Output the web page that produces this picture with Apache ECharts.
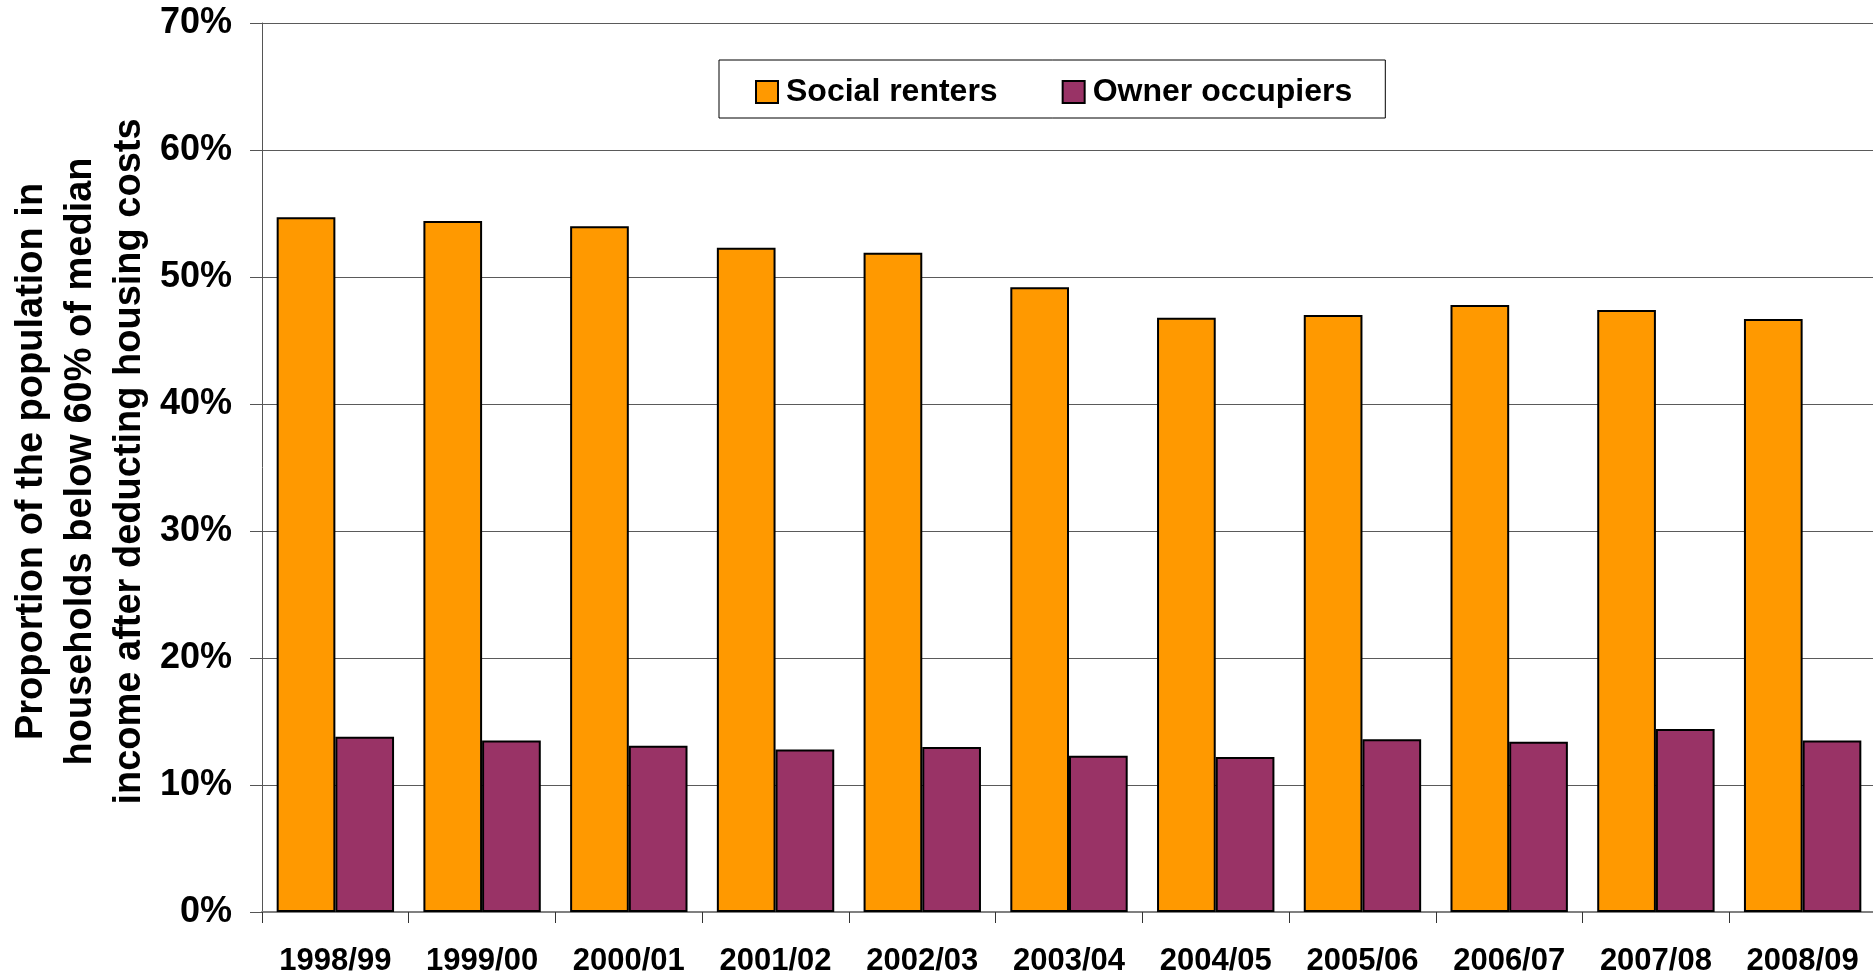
<!DOCTYPE html>
<html>
<head>
<meta charset="utf-8">
<script src="https://cdn.jsdelivr.net/npm/echarts@6/dist/echarts.min.js"></script>
<style>
  html, body { margin: 0; padding: 0; background: #fff; }
  #main { width: 1873px; height: 977px; }
</style>
</head>
<body>
<div id="main"></div>
<script>
// data (percent)
var years = ['1998/99', '1999/00', '2000/01', '2001/02', '2002/03', '2003/04',
             '2004/05', '2005/06', '2006/07', '2007/08', '2008/09'];
var socialRenters = [54.7, 54.4, 54.0, 52.3, 51.9, 49.2, 46.8, 47.0, 47.8, 47.4, 46.7];
var ownerOccupiers = [13.8, 13.5, 13.1, 12.8, 13.0, 12.3, 12.2, 13.6, 13.4, 14.4, 13.5];
var seriesNames = ['Social renters', 'Owner occupiers'];

var font = '"Liberation Sans", Arial, sans-serif';

var myChart = echarts.init(document.getElementById('main'));

var option = {
    backgroundColor: '#fff',
    animation: false,
    grid: {
        left: 262,
        top: 23,
        right: -3,
        bottom: 65,
        containLabel: false,
        outerBoundsMode: 'none'
    },
    legend: {
        data: seriesNames,
        left: 719,
        top: 60,
        orient: 'horizontal',
        icon: 'rect',
        itemWidth: 22,
        itemHeight: 22,
        itemGap: 64,
        padding: [16, 33, 10, 36],
        borderColor: '#000',
        borderWidth: 1,
        backgroundColor: '#fff',
        itemStyle: { borderColor: '#000', borderWidth: 2 },
        textStyle: {
            fontFamily: font,
            fontWeight: 'bold',
            fontSize: 32,
            color: '#000',
            padding: [0, 0, 0, 3]
        }
    },
    xAxis: {
        type: 'category',
        data: years,
        axisLine: { lineStyle: { color: '#808080', width: 2 } },
        axisTick: { show: true, length: 11, lineStyle: { color: '#333', width: 1 } },
        axisLabel: {
            margin: 34,
            fontFamily: font,
            fontWeight: 'bold',
            fontSize: 31,
            color: '#000',
            interval: 0
        }
    },
    yAxis: {
        type: 'value',
        min: 0,
        max: 70,
        interval: 10,
        name: 'Proportion of the population in\nhouseholds below 60% of median\nincome after deducting housing costs',
        nameLocation: 'middle',
        nameRotate: 90,
        nameGap: 108,
        nameMoveOverlap: false,
        nameTextStyle: {
            fontFamily: font,
            fontWeight: 'bold',
            fontSize: 38,
            lineHeight: 49,
            color: '#000',
            padding: [0, 0, 0, 12]
        },
        axisLine: { show: true, lineStyle: { color: '#555', width: 1 } },
        axisTick: { show: true, length: 12, lineStyle: { color: '#555' } },
        splitLine: { show: true, lineStyle: { color: '#5a5a5a', width: 1 } },
        axisLabel: {
            margin: 30,
            formatter: '{value}%',
            fontFamily: font,
            fontWeight: 'bold',
            fontSize: 36,
            color: '#000'
        }
    },
    series: [{
        name: seriesNames[0],
        type: 'bar',
        data: socialRenters,
        barGap: '0%',
        barCategoryGap: '20%',
        itemStyle: { color: '#FF9900', borderColor: '#000', borderWidth: 2 }
    }, {
        name: seriesNames[1],
        type: 'bar',
        data: ownerOccupiers,
        barGap: '0%',
        barCategoryGap: '20%',
        itemStyle: { color: '#993366', borderColor: '#000', borderWidth: 2 }
    }]
};

myChart.setOption(option);
</script>
</body>
</html>
